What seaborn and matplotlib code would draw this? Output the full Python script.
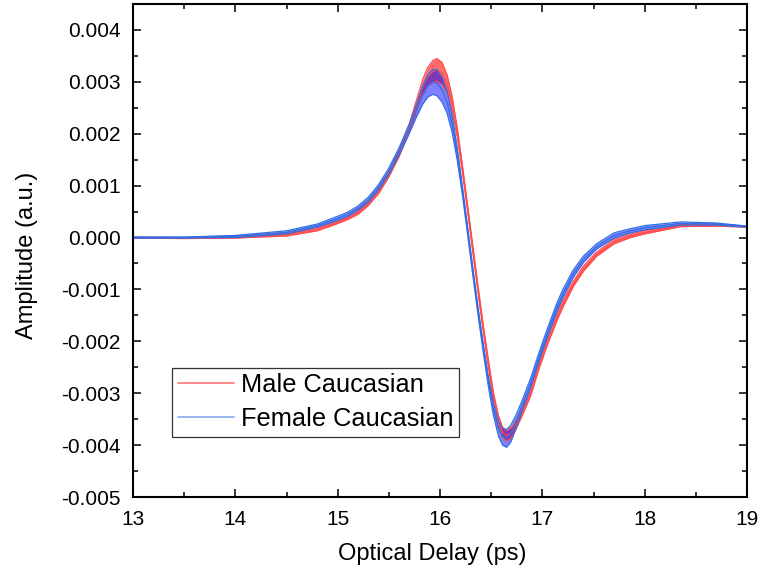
import numpy as np
import pandas as pd
import seaborn as sns
import matplotlib.pyplot as plt
from matplotlib.ticker import MultipleLocator, FormatStrFormatter

# optical delay (ps)
delay = [13.0, 13.5, 14.0, 14.5, 14.8, 15.0, 15.1, 15.2, 15.3, 15.4, 15.5, 15.6,
         15.7, 15.77, 15.83, 15.88, 15.93, 15.97, 16.02, 16.07, 16.12, 16.17,
         16.22, 16.27, 16.32, 16.37, 16.42, 16.47, 16.52, 16.57, 16.61, 16.65,
         16.69, 16.74, 16.8, 16.88, 16.97, 17.05, 17.14, 17.2, 17.3, 17.4, 17.53,
         17.7, 17.86, 18.0, 18.35, 18.7, 19.0]

male_mean = [0.0, -0.00001, 0.00001, 0.00006, 0.00016, 0.00030, 0.00038, 0.00049,
             0.00066, 0.00090, 0.00122, 0.00162, 0.00212, 0.00255, 0.00290, 0.00310,
             0.00320, 0.00323, 0.00316, 0.00295, 0.00257, 0.00200, 0.00130, 0.00055,
             -0.00022, -0.00098, -0.00172, -0.00240, -0.00305, -0.00352, -0.00375,
             -0.00382, -0.00377, -0.00362, -0.00337, -0.00302, -0.00245, -0.00200,
             -0.00155, -0.00128, -0.00090, -0.00060, -0.00032, -0.00008, 0.00003,
             0.00010, 0.00023, 0.00024, 0.00021]
male_sd = [0.00001, 0.00001, 0.00002, 0.00003, 0.00003, 0.00003, 0.00003, 0.00004,
           0.00004, 0.00005, 0.00005, 0.00006, 0.00007, 0.00010, 0.00014, 0.00018,
           0.00021, 0.00022, 0.00021, 0.00018, 0.00013, 0.00009, 0.00007, 0.00006,
           0.00006, 0.00006, 0.00006, 0.00007, 0.00008, 0.00009, 0.00010, 0.00010,
           0.00010, 0.00008, 0.00007, 0.00006, 0.00006, 0.00006, 0.00006, 0.00006,
           0.00005, 0.00005, 0.00004, 0.00004, 0.00003, 0.00003, 0.00002, 0.00002,
           0.00001]

female_mean = [0.0, 0.0, 0.00002, 0.00010, 0.00023, 0.00037, 0.00045, 0.00057,
               0.00073, 0.00097, 0.00128, 0.00166, 0.00210, 0.00245, 0.00274, 0.00292,
               0.00300, 0.00298, 0.00285, 0.00260, 0.00217, 0.00158, 0.00088, 0.00012,
               -0.00065, -0.00140, -0.00210, -0.00275, -0.00330, -0.00368, -0.00384,
               -0.00387, -0.00378, -0.00356, -0.00325, -0.00283, -0.00228, -0.00183,
               -0.00135, -0.00108, -0.00070, -0.00042, -0.00017, 0.00004, 0.00013,
               0.00019, 0.00027, 0.00026, 0.00021]
female_sd = [0.00001, 0.00001, 0.00002, 0.00003, 0.00003, 0.00004, 0.00004, 0.00004,
             0.00005, 0.00005, 0.00006, 0.00007, 0.00009, 0.00012, 0.00017, 0.00021,
             0.00024, 0.00025, 0.00024, 0.00021, 0.00016, 0.00011, 0.00008, 0.00007,
             0.00007, 0.00007, 0.00008, 0.00009, 0.00011, 0.00014, 0.00016, 0.00017,
             0.00016, 0.00013, 0.00010, 0.00009, 0.00008, 0.00008, 0.00008, 0.00008,
             0.00007, 0.00006, 0.00005, 0.00005, 0.00004, 0.00004, 0.00003, 0.00002,
             0.00001]

df = pd.DataFrame({
    'delay': delay * 2,
    'amp': male_mean + female_mean,
    'sd': male_sd + female_sd,
    'group': ['Male Caucasian'] * len(delay) + ['Female Caucasian'] * len(delay),
})

sns.set_style('ticks')
plt.rcParams['font.family'] = ['Liberation Sans', 'DejaVu Sans']
plt.rcParams['axes.unicode_minus'] = False
plt.rcParams['text.color'] = 'black'
plt.rcParams['axes.labelcolor'] = 'black'

fig = plt.figure(figsize=(7.6, 5.77), dpi=100)
ax = fig.add_axes([0.175, 0.1386, 0.808, 0.8545])

styles = {
    'Male Caucasian': dict(fill='#ff0000', falpha=0.58, line='#ff4d4d', leg='#ff7f7f'),
    'Female Caucasian': dict(fill='#0000ff', falpha=0.5, line='#2f6fe6', leg='#8db0ee'),
}

for name, g in df.groupby('group', sort=False):
    st = styles[name]
    lo = g['amp'] - g['sd']
    hi = g['amp'] + g['sd']
    ax.fill_between(g['delay'], lo, hi, color=st['fill'], alpha=st['falpha'], lw=0)
    ax.plot(g['delay'], lo, color=st['line'], lw=0.9)
    ax.plot(g['delay'], hi, color=st['line'], lw=0.9)
    sns.lineplot(data=g, x='delay', y='amp', color=st['line'], lw=0.9, ax=ax,
                 legend=False)
    ax.plot([], [], color=st['leg'], lw=1.3, label=name)

ax.set_xlim(13, 19)
ax.set_ylim(-0.005, 0.0045)
ax.xaxis.set_major_locator(MultipleLocator(1))
ax.xaxis.set_minor_locator(MultipleLocator(0.5))
ax.yaxis.set_major_locator(MultipleLocator(0.001))
ax.yaxis.set_minor_locator(MultipleLocator(0.0005))
ax.yaxis.set_major_formatter(FormatStrFormatter('%.3f'))

ax.tick_params(which='both', direction='in', top=True, right=True, width=1.1,
               labelsize=15, colors='black')
ax.tick_params(which='major', length=6, pad=9)
ax.tick_params(which='minor', length=3.6)
for s in ax.spines.values():
    s.set_linewidth(1.5)
    s.set_color('black')

ax.set_xlabel('Optical Delay (ps)', fontsize=17)
ax.set_ylabel('Amplitude (a.u.)', fontsize=17)
ax.xaxis.set_label_coords(0.487, -0.093)
ax.yaxis.set_label_coords(-0.155, 0.49)

leg = ax.legend(loc='lower left', bbox_to_anchor=(0.0635, 0.122), borderaxespad=0,
                fontsize=18.3, handlelength=2.2, handletextpad=0.3, labelspacing=0.4,
                fancybox=False, framealpha=1, borderpad=0.22)
leg.get_frame().set_edgecolor('#333333')
leg.get_frame().set_linewidth(0.9)

plt.savefig('out.png', dpi=100)
